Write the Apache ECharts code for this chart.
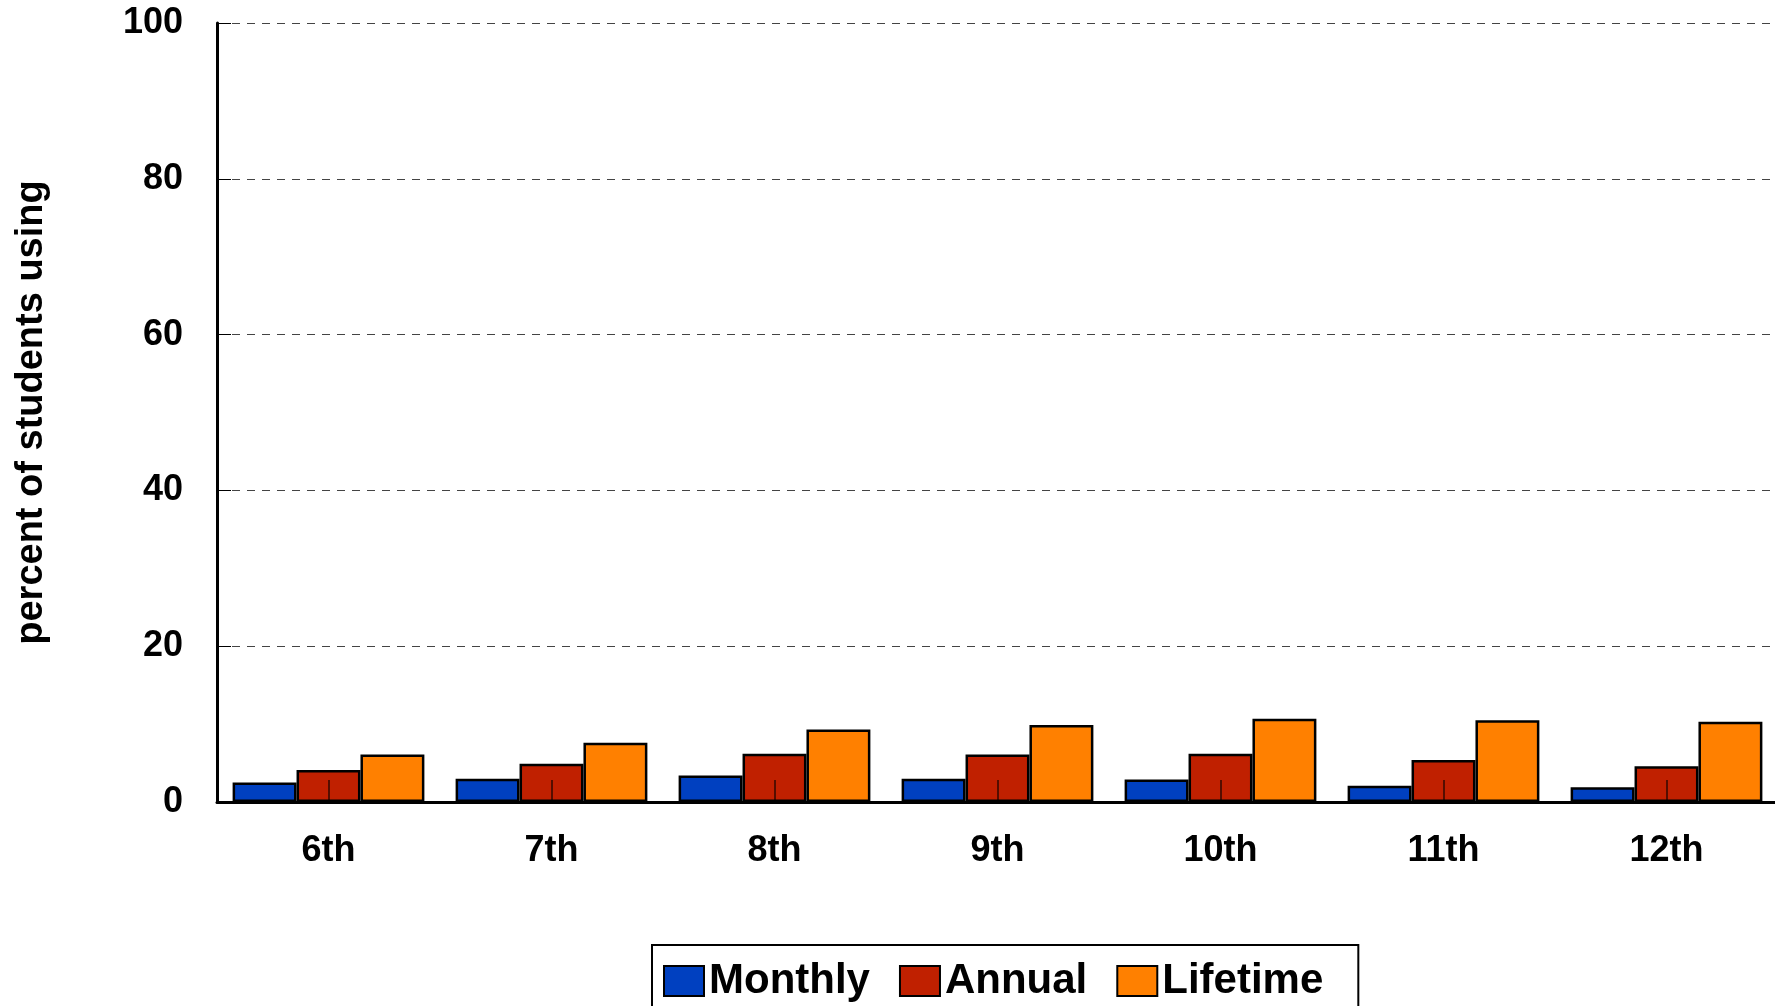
<!DOCTYPE html>
<html>
<head>
<meta charset="utf-8">
<script src="https://cdn.jsdelivr.net/npm/echarts@6/dist/echarts.min.js"></script>
<style>
  html, body { margin: 0; padding: 0; background: #fff; }
  #chart { width: 1775px; height: 1006px; }
</style>
</head>
<body>
<div id="chart"></div>
<script>
const categories = ['6th', '7th', '8th', '9th', '10th', '11th', '12th'];
const monthly  = [2.5, 3.0, 3.4, 3.0, 2.9, 2.1, 1.9];
const annual   = [4.1, 4.9, 6.2, 6.1, 6.2, 5.4, 4.6];
const lifetime = [6.1, 7.6, 9.3, 9.9, 10.7, 10.5, 10.3];
const yTicks = { min: 0, max: 100, interval: 20 };
const yTitle = 'percent of students using';

const FONT = '"Liberation Sans", Arial, sans-serif';
const chart = echarts.init(document.getElementById('chart'), null, { renderer: 'canvas' });

function barSeries(name, data, color) {
  return {
    name: name,
    type: 'bar',
    data: data,
    barGap: '0%',
    barCategoryGap: '14%',
    itemStyle: { color: color, borderColor: '#000', borderWidth: 2.5 }
  };
}

chart.setOption({
  animation: false,
  backgroundColor: '#fff',
  textStyle: { fontFamily: FONT },
  grid: { left: 217, top: 23, width: 1561, height: 779, containLabel: false, outerBoundsMode: 'none' },
  legend: {
    left: 652, top: 945,
    orient: 'horizontal',
    icon: 'rect',
    itemWidth: 40, itemHeight: 30,
    itemGap: 29,
    padding: [15, 35, 30, 11],
    borderColor: '#000', borderWidth: 2,
    textStyle: { fontFamily: FONT, fontSize: 42, fontWeight: 'bold', color: '#000' },
    data: ['Monthly', 'Annual', 'Lifetime']
  },
  xAxis: {
    type: 'category',
    data: categories,
    z: 10,
    axisLine: { show: true, lineStyle: { color: '#000', width: 3 } },
    axisTick: { show: true, inside: true, alignWithLabel: true, length: 22, lineStyle: { color: 'rgba(0,0,0,0.75)', width: 1.5 } },
    axisLabel: { fontFamily: FONT, fontSize: 36, fontWeight: 'bold', color: '#000', margin: 31 },
    splitLine: { show: false }
  },
  yAxis: {
    type: 'value',
    min: yTicks.min, max: yTicks.max, interval: yTicks.interval,
    name: yTitle,
    nameLocation: 'middle',
    nameRotate: 90,
    nameGap: 166,
    nameTextStyle: { fontFamily: FONT, fontSize: 38, fontWeight: 'bold', color: '#000' },
    axisLine: { show: true, lineStyle: { color: '#000', width: 3 } },
    axisTick: { show: true, inside: true, length: 14, lineStyle: { color: '#000', width: 1 } },
    axisLabel: { fontFamily: FONT, fontSize: 36, fontWeight: 'bold', color: '#000', margin: 34 },
    splitLine: { show: true, lineStyle: { color: '#444', width: 1, type: [8, 7] } }
  },
  series: [
    barSeries('Monthly', monthly, '#0040C0'),
    barSeries('Annual', annual, '#C02000'),
    barSeries('Lifetime', lifetime, '#FF8000')
  ]
});
</script>
</body>
</html>
